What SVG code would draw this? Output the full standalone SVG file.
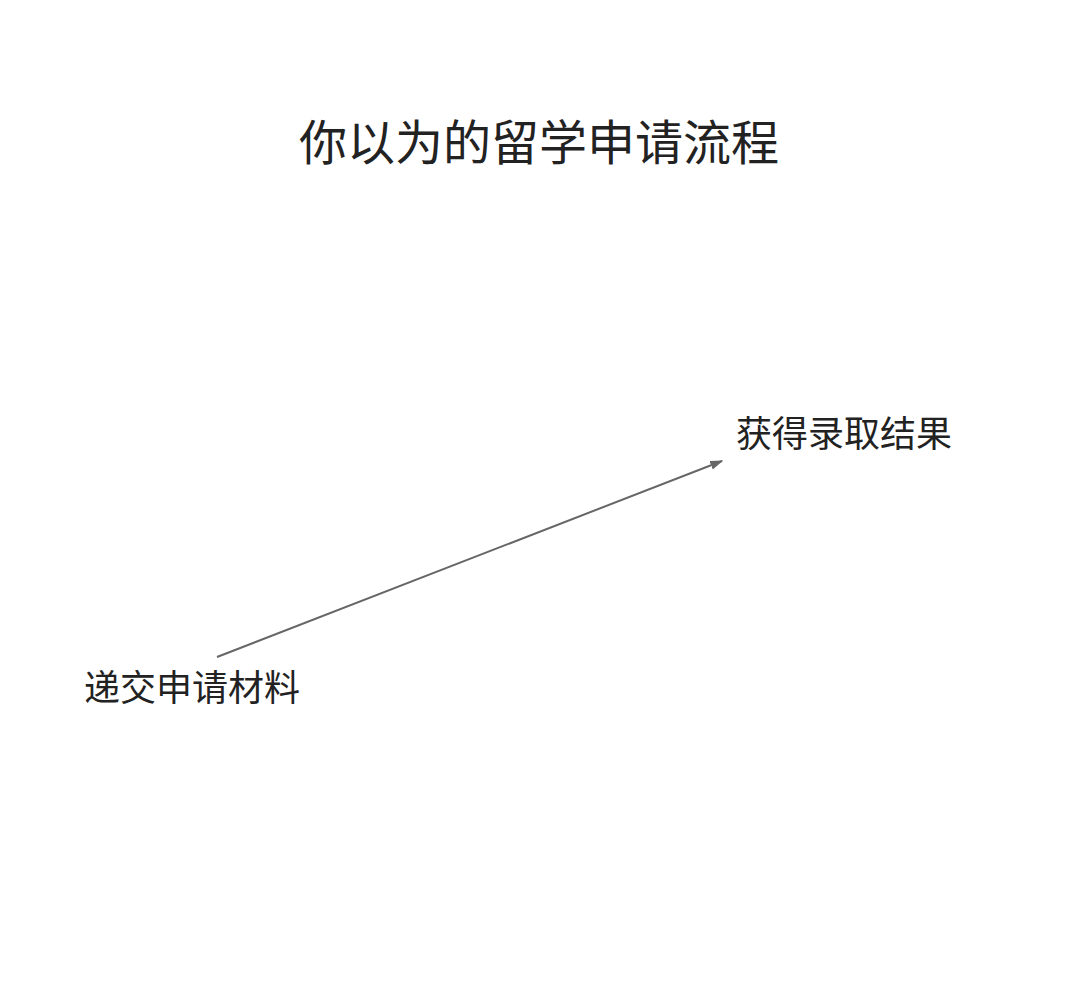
<svg xmlns="http://www.w3.org/2000/svg" width="1080" height="990" viewBox="0 0 1080 990">
<style>
text { font-family: "Noto Sans CJK SC", "Noto Sans CJK TC", sans-serif; fill: #222; }
.title { font-size: 48px; }
.label { font-size: 36px; }
.conn { stroke: #666; stroke-width: 2; fill: none; }
</style>
<defs>
<marker id="arrow" viewBox="0 0 10 10" refX="9" refY="5" markerWidth="13" markerHeight="13" orient="auto" markerUnits="userSpaceOnUse">
<path d="M0,1.5 L10,5 L0,8.5 Z" fill="#666"/>
</marker>
</defs>
<rect width="1080" height="990" fill="#fff"/>
<g id="title"><text class="title" x="539" y="160" text-anchor="middle">你以为的留学申请流程</text></g>
<g id="node-submit"><text class="label" x="84" y="701">递交申请材料</text></g>
<g id="node-result"><text class="label" x="736" y="447">获得录取结果</text></g>
<g id="connectors">
<line class="conn" x1="217" y1="657" x2="722" y2="461" marker-end="url(#arrow)"/>
</g>
</svg>
